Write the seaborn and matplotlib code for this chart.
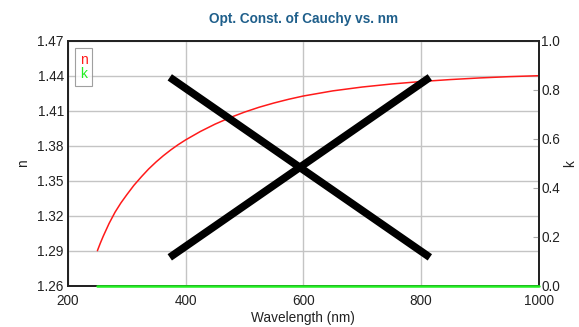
import numpy as np
import pandas as pd
import matplotlib
matplotlib.use("Agg")
import matplotlib.pyplot as plt
import seaborn as sns

# values
wavelength = [250, 255, 260, 270, 280, 290, 300, 312, 325, 337, 350, 362,
              375, 387, 400, 425, 450, 475, 500, 525, 550, 575, 600, 650,
              700, 750, 800, 850, 900, 950, 1000]
n_values = [1.2900, 1.2965, 1.3025, 1.3135, 1.3230, 1.3310, 1.3380, 1.3460,
            1.3535, 1.3600, 1.3662, 1.3714, 1.3765, 1.3808, 1.3850, 1.3922,
            1.3985, 1.4040, 1.4088, 1.4130, 1.4166, 1.4198, 1.4226, 1.4270,
            1.4303, 1.4329, 1.4350, 1.4367, 1.4381, 1.4392, 1.4400]
k_values = [0.0] * len(wavelength)

# the big "X" drawn across the plot (data coordinates of the left axis)
cross_x = [373, 815]
cross_y_down = [1.4386, 1.2843]
cross_y_up = [1.2843, 1.4386]

n_ticks = [1.26, 1.29, 1.32, 1.35, 1.38, 1.41, 1.44, 1.47]
k_ticks = [0.0, 0.2, 0.4, 0.6, 0.8, 1.0]
x_ticks = [200, 400, 600, 800, 1000]

df = pd.DataFrame({"Wavelength": wavelength, "n": n_values, "k": k_values})

sns.set_theme(style="white")
plt.rcParams["font.family"] = ["Liberation Sans", "DejaVu Sans"]

fig = plt.figure(figsize=(5.79, 3.27), dpi=100)
ax = fig.add_axes([0.1174, 0.1263, 0.8130, 0.7492])
ax2 = ax.twinx()

sns.lineplot(data=df, x="Wavelength", y="n", ax=ax, color="#ff1a1a",
             linewidth=1.1, label="n", legend=False)
sns.lineplot(data=df, x="Wavelength", y="k", ax=ax2, color="#22ee22",
             linewidth=1.8, label="k", legend=False, clip_on=False, zorder=5)

ax.plot(cross_x, cross_y_down, color="black", linewidth=5.5,
        solid_capstyle="butt", zorder=6)
ax.plot(cross_x, cross_y_up, color="black", linewidth=5.5,
        solid_capstyle="butt", zorder=6)

ax.set_xlim(200, 1000)
ax.set_ylim(1.26, 1.47)
ax2.set_ylim(0.0, 1.0)
ax.set_xticks(x_ticks)
ax.set_yticks(n_ticks)
ax.set_yticklabels([f"{t:.2f}" for t in n_ticks])
ax2.set_yticks(k_ticks)
ax2.set_yticklabels([f"{t:.1f}" for t in k_ticks])

ax.grid(True, color="#c4c4c4", linewidth=1.0)
ax.set_axisbelow(True)
ax2.grid(False)

ax.tick_params(axis="y", length=0, labelsize=9.8, colors="#222222", pad=3)
ax.tick_params(axis="x", length=0, labelsize=9.8, colors="#222222", pad=6)
ax2.tick_params(axis="y", direction="in", length=4, width=0.8,
                color="#aaaaaa", labelsize=9.8, labelcolor="#222222", pad=2)

for a in (ax, ax2):
    for s in a.spines.values():
        s.set_color("#222222")
        s.set_linewidth(1.3)

ax.set_xlabel("Wavelength (nm)", fontsize=9.8, color="#222222", labelpad=2)
ax.set_ylabel("n", fontsize=9.8, color="#222222", labelpad=5)
ax2.set_ylabel("k", fontsize=9.8, color="#222222", labelpad=2)
ax.set_title("Opt. Const. of Cauchy vs. nm", fontsize=9.8, fontweight="bold",
             color="#1f5f8b", pad=13)

h1, l1 = ax.get_legend_handles_labels()
h2, l2 = ax2.get_legend_handles_labels()
leg = ax2.legend(h1 + h2, l1 + l2, loc="upper left", handlelength=0,
                 handletextpad=0, fontsize=10, frameon=True, fancybox=False,
                 borderpad=0.35, labelspacing=0.05, borderaxespad=0.5)
leg.get_frame().set_edgecolor("#888888")
leg.get_frame().set_linewidth(0.8)
for txt, c in zip(leg.get_texts(), ["#ff1a1a", "#22ee22"]):
    txt.set_color(c)
for h in leg.legend_handles:
    h.set_visible(False)

fig.savefig("out.png", dpi=100)
